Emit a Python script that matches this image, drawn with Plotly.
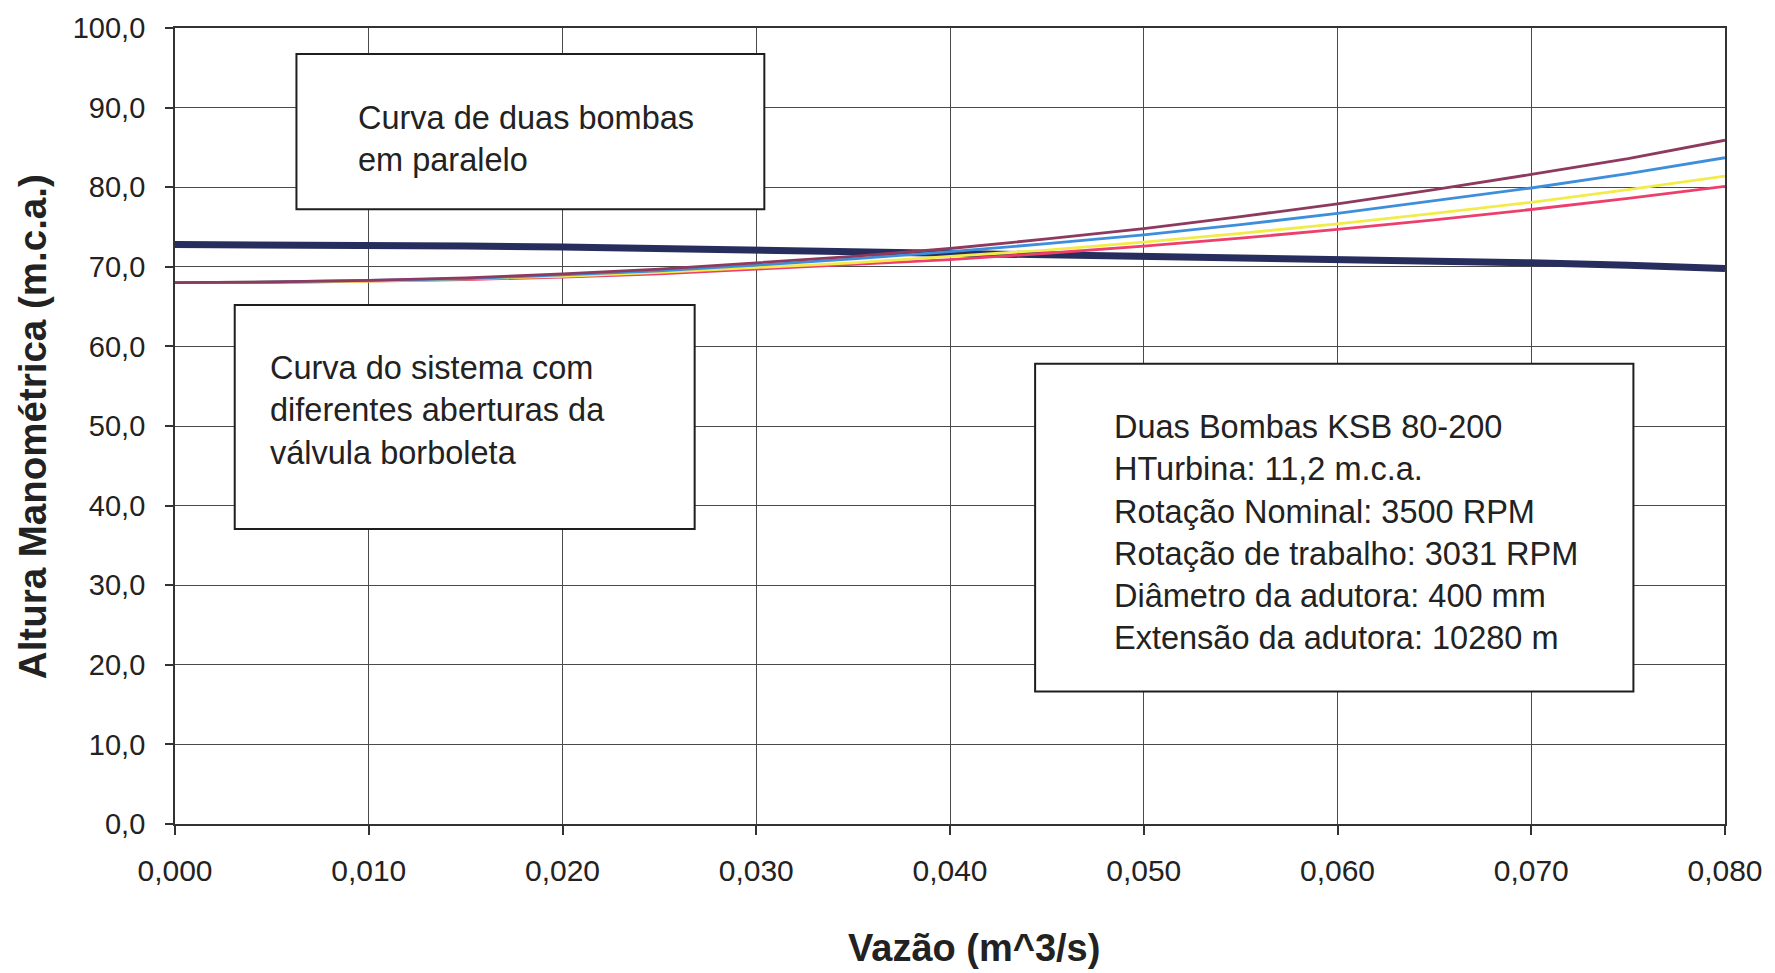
import plotly.graph_objects as go

# Flow rate (m^3/s)
vazao = [0.000, 0.005, 0.010, 0.015, 0.020, 0.025, 0.030, 0.035, 0.040,
         0.045, 0.050, 0.055, 0.060, 0.065, 0.070, 0.075, 0.080]

# Two pumps in parallel (head, m.c.a.)
bombas_paralelo = [72.8, 72.8, 72.7, 72.6, 72.5, 72.3, 72.1, 71.9, 71.8,
                   71.6, 71.5, 71.3, 71.1, 70.8, 70.5, 70.2, 69.8]

# System curves for different butterfly valve openings (head, m.c.a.)
sistema_1 = [68.0, 68.1, 68.3, 68.6, 69.1, 69.7, 70.5, 71.3, 72.3,
             73.5, 74.8, 76.3, 77.9, 79.7, 81.6, 83.6, 85.9]
sistema_2 = [68.0, 68.1, 68.3, 68.5, 69.0, 69.5, 70.2, 71.0, 71.9,
             72.9, 74.0, 75.3, 76.7, 78.3, 79.9, 81.7, 83.7]
sistema_3 = [68.0, 68.1, 68.2, 68.5, 68.8, 69.3, 69.9, 70.5, 71.3,
             72.1, 73.1, 74.2, 75.4, 76.7, 78.1, 79.7, 81.4]
sistema_4 = [68.0, 68.0, 68.2, 68.4, 68.7, 69.1, 69.7, 70.3, 70.9,
             71.7, 72.6, 73.6, 74.7, 75.9, 77.2, 78.6, 80.1]

x_ticks = [0.00, 0.01, 0.02, 0.03, 0.04, 0.05, 0.06, 0.07, 0.08]
y_ticks = [0, 10, 20, 30, 40, 50, 60, 70, 80, 90, 100]

FONT = "Liberation Sans, Arial, Helvetica, sans-serif"
TXT = "#222222"

W, H = 1775, 973
L, R, T, B = 175, 43, 25, 149
PW, PH = W - L - R, H - T - B


def px(x):
    return (x - L) / PW


def py(y):
    return (H - B - y) / PH


fig = go.Figure()

fig.add_trace(go.Scatter(x=vazao, y=bombas_paralelo, mode="lines",
                         line=dict(color="#272d5c", width=7)))
fig.add_trace(go.Scatter(x=vazao, y=sistema_4, mode="lines",
                         line=dict(color="#ee3f6c", width=2.8)))
fig.add_trace(go.Scatter(x=vazao, y=sistema_3, mode="lines",
                         line=dict(color="#f2ec4a", width=2.8)))
fig.add_trace(go.Scatter(x=vazao, y=sistema_2, mode="lines",
                         line=dict(color="#3d8fdc", width=2.8)))
fig.add_trace(go.Scatter(x=vazao, y=sistema_1, mode="lines",
                         line=dict(color="#8e3a5e", width=2.8)))

# Text boxes (pixel rectangles: left, top, right, bottom), text anchor
boxes = [
    ((297, 51, 767, 207), 357, 136,
     "Curva de duas bombas<br>em paralelo"),
    ((235, 303, 697, 528), 268, 409,
     "Curva do sistema com<br>diferentes aberturas da<br>válvula borboleta"),
    ((1039, 362, 1640, 691), 1116, 531,
     "Duas Bombas KSB 80-200<br>HTurbina: 11,2 m.c.a.<br>"
     "Rotação Nominal: 3500 RPM<br>Rotação de trabalho: 3031 RPM<br>"
     "Diâmetro da adutora: 400 mm<br>Extensão da adutora: 10280 m"),
]
shapes = []
annotations = []
for (x0, y0, x1, y1), tx, ty, text in boxes:
    shapes.append(dict(type="rect", xref="paper", yref="paper",
                       x0=px(x0), x1=px(x1), y0=py(y1), y1=py(y0),
                       fillcolor="white", line=dict(color="#1e1e1e", width=2),
                       layer="above"))
    annotations.append(dict(xref="paper", yref="paper", x=px(tx), y=py(ty),
                            xanchor="left", yanchor="middle", align="left",
                            showarrow=False, text=text,
                            font=dict(family=FONT, size=32.5, color=TXT)))

# Axis titles
annotations.append(dict(xref="paper", yref="paper", x=px(32), y=py(425),
                        xanchor="center", yanchor="middle", textangle=-90,
                        showarrow=False, text="<b>Altura Manométrica (m.c.a.)</b>",
                        font=dict(family=FONT, size=38.5, color=TXT)))
annotations.append(dict(xref="paper", yref="paper", x=px(978), y=py(948),
                        xanchor="center", yanchor="middle",
                        showarrow=False, text="<b>Vazão (m^3/s)</b>",
                        font=dict(family=FONT, size=38, color=TXT)))

fig.update_layout(
    width=W, height=H,
    margin=dict(l=L, r=R, t=T, b=B, pad=0),
    paper_bgcolor="white", plot_bgcolor="white",
    showlegend=False,
    separators=",.",
    shapes=shapes,
    annotations=annotations,
    font=dict(family=FONT, color=TXT),
)

fig.update_xaxes(
    range=[0, 0.08], tickvals=x_ticks, tickformat=".3f",
    showgrid=True, gridcolor="#4a4a4a", gridwidth=1.2,
    showline=True, linecolor="#333333", linewidth=1.8, mirror=True,
    ticks="outside", ticklen=9, tickcolor="#333333", tickwidth=1.5,
    ticklabelstandoff=10,
    tickfont=dict(family=FONT, size=30, color=TXT),
    zeroline=False,
)
fig.update_yaxes(
    range=[0, 100], tickvals=y_ticks, tickformat=".1f",
    showgrid=True, gridcolor="#4a4a4a", gridwidth=1.2,
    showline=True, linecolor="#333333", linewidth=1.8, mirror=True,
    ticks="outside", ticklen=8, tickcolor="#333333", tickwidth=1.5,
    ticklabelstandoff=14,
    tickfont=dict(family=FONT, size=29, color=TXT),
    zeroline=False,
)

fig.write_html("out.html")
